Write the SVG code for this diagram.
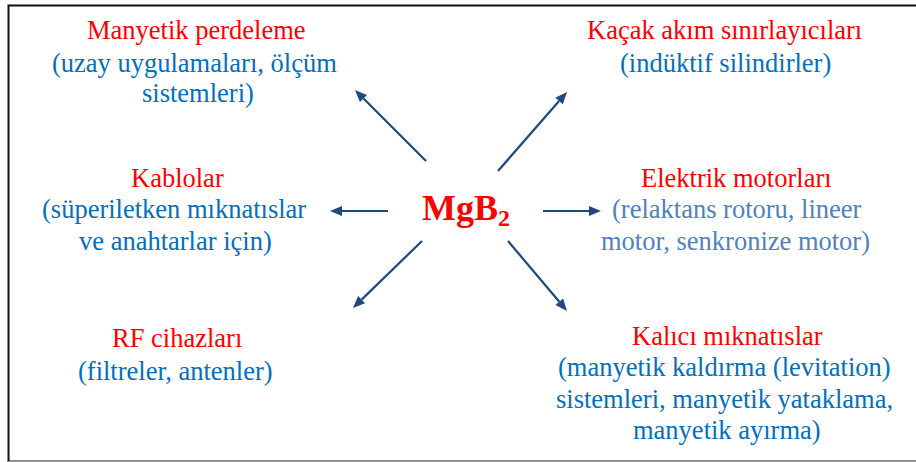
<svg xmlns="http://www.w3.org/2000/svg" width="916" height="462" viewBox="0 0 916 462">
  <rect width="916" height="462" fill="#FFFFFF"/>
  <!-- outer frame; right edge runs past the canvas -->
  <rect x="8.5" y="5.5" width="940" height="456" fill="none" stroke="#111111" stroke-width="2"/>
  <line x1="8" y1="461.5" x2="916" y2="461.5" stroke="#9A9A9A" stroke-width="1"/>

  <!-- spokes from MgB2 out to each application -->
  <g id="connectors" stroke="#1F497D" stroke-width="2.2" fill="#1F497D">
    <line x1="426" y1="161" x2="363.5" y2="98.5"/>
    <polygon stroke="none" points="355,90 367.02,94.95 359.95,102.02"/>
    <line x1="498" y1="171" x2="559.1" y2="101"/>
    <polygon stroke="none" points="567,92 562.87,104.33 555.34,97.75"/>
    <line x1="388" y1="211" x2="342" y2="211"/>
    <polygon stroke="none" points="330,211 342,206 342,216"/>
    <line x1="543" y1="211" x2="589" y2="211"/>
    <polygon stroke="none" points="601,211 589,206 589,216"/>
    <line x1="422" y1="241" x2="361.6" y2="299.6"/>
    <polygon stroke="none" points="353,308 358.13,296.05 365.09,303.23"/>
    <line x1="508" y1="241" x2="559.3" y2="301.8"/>
    <polygon stroke="none" points="567,311 555.44,305.05 563.09,298.6"/>
  </g>

  <g id="mgb2" fill="#FF0000" font-size="36" font-weight="bold">
    <text x="422" y="220" font-family="Times New Roman, Liberation Serif, serif">MgB<tspan font-size="24" dy="6">2</tspan></text>
  </g>

  <g id="manyetik-perdeleme" font-size="26.5" font-family="Times New Roman, Liberation Serif, serif">
    <text x="87" y="39" fill="#FF0000">Manyetik perdeleme</text>
    <text x="52" y="71.5" fill="#0070C0">(uzay uygulamaları, ölçüm</text>
    <text x="142" y="102" fill="#0070C0">sistemleri)</text>
  </g>

  <g id="kacak-akim" font-size="26.5" font-family="Times New Roman, Liberation Serif, serif">
    <text x="587" y="39" fill="#FF0000">Kaçak akım sınırlayıcıları</text>
    <text x="620" y="72" fill="#0070C0">(indüktif silindirler)</text>
  </g>

  <g id="kablolar" font-size="26.5" font-family="Times New Roman, Liberation Serif, serif">
    <text x="131" y="187" fill="#FF0000">Kablolar</text>
    <text x="42" y="218" fill="#0070C0">(süperiletken mıknatıslar</text>
    <text x="79" y="250" fill="#0070C0">ve anahtarlar için)</text>
  </g>

  <g id="elektrik-motorlari" font-size="26.5" font-family="Times New Roman, Liberation Serif, serif">
    <text x="641" y="187" fill="#FF0000">Elektrik motorları</text>
    <text x="612" y="218" fill="#4F81BD">(relaktans rotoru, lineer</text>
    <text x="601" y="250" fill="#4F81BD">motor, senkronize motor)</text>
  </g>

  <g id="rf-cihazlari" font-size="26.5" font-family="Times New Roman, Liberation Serif, serif">
    <text x="112" y="347" fill="#FF0000">RF cihazları</text>
    <text x="78" y="380" fill="#0070C0">(filtreler, antenler)</text>
  </g>

  <g id="kalici-miknatislar" font-size="26.5" font-family="Times New Roman, Liberation Serif, serif">
    <text x="632" y="345" fill="#FF0000">Kalıcı mıknatıslar</text>
    <text x="558" y="376" fill="#0070C0">(manyetik kaldırma (levitation)</text>
    <text x="556" y="408" fill="#0070C0">sistemleri, manyetik yataklama,</text>
    <text x="633" y="439" fill="#0070C0">manyetik ayırma)</text>
  </g>
</svg>
